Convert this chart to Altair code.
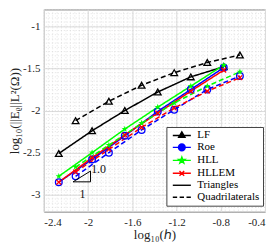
import altair as alt
import pandas as pd

# ---- data ----
h_tri = [-2.265, -1.964, -1.668, -1.370, -1.071, -0.773]
h_quad = [-2.113, -1.812, -1.516, -1.221, -0.922, -0.627]

schemes = ["LF", "Roe", "HLL", "HLLEM"]
colors = ["#000000", "#0000ff", "#00ff00", "#ff0000"]

LF_tri = [-2.51, -2.24, -2.00, -1.78, -1.60, -1.48]
Roe_tri = [-2.85, -2.58, -2.30, -2.01, -1.75, -1.49]
HLL_tri = [-2.78, -2.50, -2.22, -1.96, -1.71, -1.46]
HLLEM_tri = [-2.85, -2.56, -2.29, -2.03, -1.77, -1.52]

LF_quad = [-2.12, -1.89, -1.70, -1.55, -1.43, -1.34]
Roe_quad = [-2.78, -2.50, -2.23, -1.99, -1.75, -1.59]
HLL_quad = [-2.67, -2.41, -2.15, -1.91, -1.71, -1.54]
HLLEM_quad = [-2.73, -2.46, -2.20, -1.97, -1.77, -1.61]

meshes = ["Triangles", "Quadrilaterals"]

x_ticks = [-2.4, -2.0, -1.6, -1.2, -0.8, -0.4]
y_ticks = [-3.0, -2.5, -2.0, -1.5, -1.0]
x_minor = [round(-2.4 + 0.04 * i, 2) for i in range(51)]
y_minor = [round(-3.2 + 0.05 * i, 2) for i in range(49)]

slope_x = [-2.136, -1.978, -1.978, -2.136]
slope_y = [-2.846, -2.846, -2.718, -2.846]
slope_labels = ["1.0", "1"]
slope_label_x = [-1.905, -2.05]
slope_label_y = [-2.69, -2.99]

# ---- tables ----
series = {
    ("LF", "Triangles"): LF_tri, ("Roe", "Triangles"): Roe_tri,
    ("HLL", "Triangles"): HLL_tri, ("HLLEM", "Triangles"): HLLEM_tri,
    ("LF", "Quadrilaterals"): LF_quad, ("Roe", "Quadrilaterals"): Roe_quad,
    ("HLL", "Quadrilaterals"): HLL_quad, ("HLLEM", "Quadrilaterals"): HLLEM_quad,
}
rows = []
for (s, m), vals in series.items():
    hs = h_tri if m == "Triangles" else h_quad
    for h, e in zip(hs, vals):
        rows.append({"scheme": s, "mesh": m, "h": h, "e": e})
df = pd.DataFrame(rows)

FONT = "Times New Roman"
xs = alt.Scale(domain=[-2.4, -0.4], nice=False, zero=False)
ys = alt.Scale(domain=[-3.2, -0.8], nice=False, zero=False)

xaxis = alt.Axis(values=x_ticks, title="log₁₀(ℎ)", grid=True, gridColor="#dcdcdc",
                 ticks=False, labelFont=FONT, labelFontSize=11, titleFont=FONT,
                 titleFontSize=13, titleFontWeight="normal", domain=False,
                 labelExpr="'' + datum.value",
                 labelPadding=5, titlePadding=1, labelColor="#222", titleColor="#222")
yaxis = alt.Axis(values=y_ticks, title="log₁₀(||Eᵨ||L²(Ω))", grid=True, gridColor="#dcdcdc",
                 ticks=False, labelFont=FONT, labelFontSize=11, titleFont=FONT,
                 titleFontSize=13, titleFontWeight="normal", domain=False,
                 labelExpr="'' + datum.value",
                 labelPadding=4, titlePadding=1, labelColor="#222", titleColor="#222")

X = lambda f: alt.X(f, scale=xs, axis=xaxis)
Y = lambda f: alt.Y(f, scale=ys, axis=yaxis)

keys = schemes + meshes
key_colors = colors + ["#000000", "#000000"]
legend_def = alt.Legend(title=None, orient="none", legendX=123, legendY=118,
                        labelFont=FONT, labelFontSize=11, symbolSize=45,
                        symbolStrokeWidth=1.4, symbolOpacity=1,
                        fillColor="white", strokeColor="#444",
                        padding=3, rowPadding=0, symbolOffset=7, labelOffset=10)
color = alt.Color("scheme:N", scale=alt.Scale(domain=keys, range=key_colors), legend=legend_def)

minor_x = alt.Chart(pd.DataFrame({"v": x_minor})).mark_rule(
    color="#d0d0d0", strokeWidth=0.6, strokeDash=[1, 2]
).encode(x=X("v:Q"))
minor_y = alt.Chart(pd.DataFrame({"v": y_minor})).mark_rule(
    color="#d0d0d0", strokeWidth=0.6, strokeDash=[1, 2]
).encode(y=Y("v:Q"))

lines = alt.Chart(df).mark_line(strokeWidth=1.5).encode(
    x=X("h:Q"), y=Y("e:Q"),
    color=color,
    strokeDash=alt.StrokeDash("mesh:N", scale=alt.Scale(domain=meshes, range=[[1, 0], [5, 3]]),
                              legend=None),
    detail="mesh:N",
)

star = "M0,-1L0.235,-0.324L0.951,-0.309L0.38,0.124L0.588,0.809L0,0.4L-0.588,0.809L-0.38,0.124L-0.951,-0.309L-0.235,-0.324Z"
xmark = "M-0.7,-0.7L0.7,0.7M-0.7,0.7L0.7,-0.7"
marker_shapes = ["triangle-up", "circle", star, xmark]
marker_filled = [False, False, True, False]

point_layers = []
for s, shp, fl in zip(schemes, marker_shapes, marker_filled):
    point_layers.append(
        alt.Chart(df).transform_filter(alt.datum.scheme == s)
        .mark_point(shape=shp, filled=fl, strokeWidth=1.3, size=45, opacity=1)
        .encode(x=X("h:Q"), y=Y("e:Q"), color=color)
    )

# legend symbols: marker with a line sample through it
L = "M-2.7,0H2.7"
legend_shapes = [
    L + "M0,-1.1L0.95,0.55L-0.95,0.55Z",
    L + "M1,0A1,1 0 1,1 -1,0A1,1 0 1,1 1,0",
    L + star,
    L + xmark,
    L,
    "M-2.7,0H-1.4M-0.65,0H0.65M1.4,0H2.7",
]
legend_layer = alt.Chart(df).mark_point(filled=False, opacity=0, size=45).encode(
    x=X("h:Q"), y=Y("e:Q"),
    color=color,
    shape=alt.Shape("scheme:N", scale=alt.Scale(domain=keys, range=legend_shapes),
                    legend=legend_def),
)

slope = alt.Chart(pd.DataFrame({"x": slope_x, "y": slope_y, "o": list(range(4))})).mark_line(
    color="black", strokeWidth=1
).encode(x=X("x:Q"), y=Y("y:Q"), order="o:Q")

slope_txt = alt.Chart(pd.DataFrame({"t": slope_labels, "x": slope_label_x, "y": slope_label_y})).mark_text(
    font=FONT, fontSize=12, color="#111"
).encode(x=X("x:Q"), y=Y("y:Q"), text="t:N")

chart = alt.layer(minor_x, minor_y, lines, *point_layers, slope, slope_txt, legend_layer).properties(
    width=222, height=203, padding={"left": 0, "top": 0, "right": 0, "bottom": 0}
).configure_view(stroke="#888", strokeWidth=1)

chart.save("out.html", embed_options={"renderer": "svg", "actions": False})
